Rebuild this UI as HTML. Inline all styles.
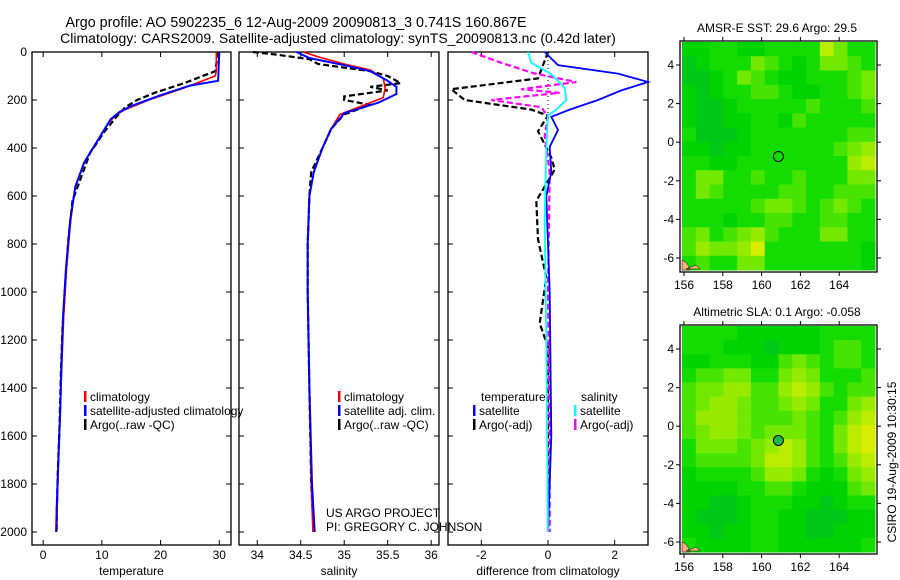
<!DOCTYPE html>
<html><head><meta charset="utf-8"><style>
html,body{margin:0;padding:0;background:#fff;}
svg{display:block;font-family:"Liberation Sans",sans-serif;}
</style></head><body>
<svg id="fig" width="900" height="580" viewBox="0 0 900 580" xmlns="http://www.w3.org/2000/svg">
<text x="296" y="27" font-size="14.3" text-anchor="middle">Argo profile: AO 5902235_6 12-Aug-2009 20090813_3 0.741S 160.867E</text>
<text x="338" y="43" font-size="14" text-anchor="middle">Climatology: CARS2009. Satellite-adjusted climatology: synTS_20090813.nc (0.42d later)</text>
<g id="g1"></g>
<g id="g2"></g>
<g id="g3"></g>
<g id="m1"></g>
<g id="m2"></g>
<text x="777" y="32" font-size="12" text-anchor="middle">AMSR-E SST: 29.6 Argo: 29.5</text>
<text x="777" y="316" font-size="12" text-anchor="middle">Altimetric SLA: 0.1 Argo: -0.058</text>
<text transform="translate(896,462) rotate(-90)" font-size="12" text-anchor="middle">CSIRO 19-Aug-2009 10:30:15</text>
<text x="326" y="517" font-size="12">US ARGO PROJECT</text>
<text x="326" y="531" font-size="12">PI: GREGORY C. JOHNSON</text>
</svg>
<script>
// ---- profile data: [value, depth] ----
const depthTicks = [0,200,400,600,800,1000,1200,1400,1600,1800,2000];
const tempTicks = [0,10,20,30];
const salTicks = [34,34.5,35,35.5,36];
const diffTicks = [-2,0,2];
const tempClim = [[29.5,0],[29.5,80],[29.3,100],[24,150],[18,200],[14,240],[12.5,260],[11,300],[9,380],[7,460],[5.5,560],[4.7,700],[4,900],[3.5,1100],[3.2,1300],[2.9,1500],[2.6,1700],[2.4,1900],[2.3,2000]];
const tempSat = [[30,0],[29.8,120],[25,140],[20,180],[15,225],[13,250],[11.5,280],[11,300],[9,380],[7,460],[5.5,560],[4.6,700],[3.9,900],[3.4,1100],[3.1,1300],[2.9,1500],[2.6,1700],[2.3,1900],[2.2,2000]];
const tempArgo = [[29.8,0],[29.3,80],[24,130],[19,170],[16,200],[14,230],[12.5,270],[10.5,330],[8,420],[6.5,520],[5,620],[4.3,780],[3.8,950],[3.3,1150],[3.0,1350],[2.8,1550],[2.5,1750],[2.35,1900],[2.3,2000]];
const salClim = [[34.53,0],[34.7,20],[35.0,50],[35.3,75],[35.45,110],[35.47,150],[35.45,190],[35.2,225],[34.95,260],[34.85,320],[34.75,400],[34.65,500],[34.6,600],[34.58,800],[34.58,1000],[34.6,1400],[34.62,1800],[34.64,2000]];
const salSat = [[34.45,0],[34.6,25],[35.0,55],[35.3,80],[35.5,120],[35.6,145],[35.6,175],[35.4,210],[35.0,255],[34.85,320],[34.75,400],[34.65,500],[34.6,600],[34.58,800],[34.58,1000],[34.6,1400],[34.63,1800],[34.66,2000]];
const salArgo = [[33.95,0],[34.2,10],[34.6,30],[34.7,50],[35.3,80],[35.5,100],[35.65,130],[35.3,145],[35.5,160],[35.0,185],[35.0,200],[35.3,220],[35.0,260],[34.85,320],[34.75,400],[34.62,500],[34.6,600],[34.58,800],[34.58,1000],[34.6,1400],[34.62,1800],[34.65,2000]];
const dTempSat = [[-0.1,0],[0.3,55],[2.1,90],[3,125],[2.2,160],[1.5,200],[0.65,240],[0.1,270],[0.3,325],[0.05,395],[0.1,500],[-0.05,600],[0.05,1000],[0.1,1600],[0,2000]];
const dSalSat = [[-0.6,0],[-0.5,45],[0.05,88],[0.3,120],[0.5,150],[0.55,200],[0.25,240],[0,265],[-0.05,400],[-0.1,700],[-0.05,1200],[0,2000]];
const dSalArgo = [[-2.3,0],[-1.4,45],[-0.45,88],[0.85,125],[-0.8,155],[0.35,170],[-1.7,200],[-0.2,230],[0,270],[-0.1,350],[0.05,500],[0,1000],[0.05,1600],[0.05,2000]];
const dTempArgo = [[0,0],[-0.3,110],[-2.9,155],[-2.5,200],[-0.5,240],[0,265],[-0.3,330],[0.1,440],[0.2,490],[-0.35,620],[-0.3,780],[-0.05,940],[-0.25,1130],[0,1230],[0,2000]];
// ---- map data (rows north->south, digits 0-9 = colour level) ----
const lonTicks = [156,158,160,162,164];
const latTicks = [4,2,0,-2,-4,-6];
const argoPos = [160.867,-0.741];
const sstGrid = ["22332233337533","12333543235543","11235432233345","21233443223345","21123333343334","21122332433333","31112333333344","22122333333456","33223333333367","35533433433355","35433334433444","33333455434543","33323344334433","45345643335533","46556833333332","34335533333332"];
const slaGrid = ["33332222223333","33322212223443","22333224543443","34455335653334","45566446764344","45665445653356","46665444543467","45665455543578","35554567643578","34444577643467","23333466532356","22223344322245","22112333221233","21112332211122","22122332211222","32222332222223"];

const NS = "http://www.w3.org/2000/svg";
function mk(parent, tag, attrs){const e=document.createElementNS(NS,tag);for(const k in attrs)e.setAttribute(k,attrs[k]);parent.appendChild(e);return e;}
const Y0=52, YPX=0.24;
function yD(d){return Y0+d*YPX;}
const PB=545;

function panel(g, x0, x1, vmin, vmax, ticks, tickFmt, xlabel, showY){
  const sx = v => x0+(v-vmin)/(vmax-vmin)*(x1-x0);
  const box = mk(g,'rect',{x:x0,y:Y0,width:x1-x0,height:PB-Y0,fill:'none',stroke:'#000','stroke-width':1.3});
  
  
  ticks.forEach(t=>{
    const x=sx(t);
    mk(g,'line',{x1:x,x2:x,y1:PB,y2:PB-5,stroke:'#000'});
    mk(g,'line',{x1:x,x2:x,y1:Y0,y2:Y0+5,stroke:'#000'});
    const tx=mk(g,'text',{x:x,y:559,'font-size':12,'text-anchor':'middle'});
    tx.textContent=tickFmt(t);
    
    
  });
  depthTicks.forEach(d=>{
    const y=yD(d);
    mk(g,'line',{x1:x0,x2:x0+5,y1:y,y2:y,stroke:'#000'});
    mk(g,'line',{x1:x1,x2:x1-5,y1:y,y2:y,stroke:'#000'});
    if(showY){const tx=mk(g,'text',{x:27,y:y+4,'font-size':12,'text-anchor':'end'});tx.textContent=d;
      
      }
  });
  const lb=mk(g,'text',{x:(x0+x1)/2,y:575,'font-size':12,'text-anchor':'middle'});
  lb.textContent=xlabel;
  
  
  return sx;
}
function line(g, sx, data, color, dash, w, name){
  const p=mk(g,'polyline',{points:data.map(a=>sx(a[0]).toFixed(1)+','+yD(a[1]).toFixed(1)).join(' '),fill:'none',stroke:color,'stroke-width':w,'stroke-dasharray':dash||'none'});
  
  
}
function legend(g, x, y, color, label, name){
  mk(g,'rect',{x:x,y:y-6,width:2.5,height:11,fill:color});
  const t=mk(g,'text',{x:x+6,y:y+4,'font-size':12});t.textContent=label;
  
  
}
const g1=document.getElementById('g1'),g2=document.getElementById('g2'),g3=document.getElementById('g3');
const s1=panel(g1,32,231,-1.9,32,tempTicks,t=>t,'temperature',true);
line(g1,s1,tempArgo,'#000','6,3',2.2,'argo-temperature-line');
line(g1,s1,tempClim,'#f00','',1.6,'climatology-temperature-line');
line(g1,s1,tempSat,'#00f','',2,'satellite-temperature-line');
legend(g1,84,397,'#f00','climatology','legend-climatology');
legend(g1,84,411,'#00f','satellite-adjusted climatology','legend-satellite');
legend(g1,84,425,'#000','Argo(..raw -QC)','legend-argo');

const s2=panel(g2,239,439,33.79,36.09,salTicks,t=>t,'salinity',false);
line(g2,s2,salArgo,'#000','6,3',2.2,'argo-salinity-line');
line(g2,s2,salClim,'#f00','',1.6,'climatology-salinity-line');
line(g2,s2,salSat,'#00f','',2,'satellite-salinity-line');
legend(g2,338,397,'#f00','climatology','legend-climatology');
legend(g2,338,411,'#00f','satellite adj. clim.','legend-satellite');
legend(g2,338,425,'#000','Argo(..raw -QC)','legend-argo');

const s3=panel(g3,448,648,-3,3,diffTicks,t=>t,'difference from climatology',false);
mk(g3,'line',{x1:s3(0),x2:s3(0),y1:yD(0),y2:yD(300),stroke:'#000','stroke-dasharray':'1,3'});
line(g3,s3,dTempArgo,'#000','6,3',2.2,'argo-temperature-diff-line');
line(g3,s3,dSalArgo,'#f0f','6,3',2.2,'argo-salinity-diff-line');
line(g3,s3,dTempSat,'#00f','',1.8,'satellite-temperature-diff-line');
line(g3,s3,dSalSat,'#0ff','',1.8,'satellite-salinity-diff-line');
{const t=mk(g3,'text',{x:481,y:401,'font-size':12});t.textContent='temperature';


const u=mk(g3,'text',{x:581,y:401,'font-size':12});u.textContent='salinity';

}
legend(g3,473,411,'#00f','satellite','legend-temp-satellite');
legend(g3,473,425,'#000','Argo(-adj)','legend-temp-argo');
legend(g3,574,411,'#0ff','satellite','legend-sal-satellite');
legend(g3,574,425,'#f0f','Argo(-adj)','legend-sal-argo');

// maps
const stops=[[0,185,45],[0,200,25],[0,212,0],[20,220,0],[70,228,0],[115,232,0],[150,235,0],[185,236,0],[215,238,0],[240,240,0]];
function mapPanel(g, top, bot, lat4y, grid, filled){
  const L=680,R=877, lonX=lon=>684+(lon-156)*19.4, latY=lat=>lat4y+(4-lat)*19.3;
  const rows=grid.length, cols=grid[0].length;
  const dx=(875-682)/cols, dy=(bot-2-(top+1))/rows;
  grid.forEach((row,r)=>{for(let c=0;c<cols;c++){const v=+row[c];const col=stops[v];
    const cell=mk(g,'rect',{x:(682+c*dx).toFixed(2),y:(top+1+r*dy).toFixed(2),width:(dx+0.5).toFixed(2),height:(dy+0.5).toFixed(2),fill:`rgb(${col[0]},${col[1]},${col[2]})`});
    
    }});
  mk(g,'path',{d:`M682 ${bot-12} q6 2 8 10 l-8 0 z M686 ${bot-3} l14 0 l-4 -4 z`,fill:'#f4b07a',stroke:'#000','stroke-width':0.5});
  const fr=mk(g,'rect',{x:L,y:top,width:R-L,height:bot-top,fill:'none',stroke:'#000','stroke-width':1.3});
  
  
  lonTicks.forEach(l=>{const x=lonX(l);
    mk(g,'line',{x1:x,x2:x,y1:top,y2:top-4,stroke:'#000'});
    mk(g,'line',{x1:x,x2:x,y1:bot,y2:bot+4,stroke:'#000'});
    const t=mk(g,'text',{x:x,y:bot+17,'font-size':12,'text-anchor':'middle'});t.textContent=l;
    
    });
  latTicks.forEach(l=>{const y=latY(l);
    mk(g,'line',{x1:L,x2:L-4,y1:y,y2:y,stroke:'#000'});
    mk(g,'line',{x1:R,x2:R+4,y1:y,y2:y,stroke:'#000'});
    const t=mk(g,'text',{x:L-6,y:y+4,'font-size':12,'text-anchor':'end'});t.textContent=l;
    
    });
  const c=mk(g,'circle',{cx:lonX(argoPos[0]),cy:latY(argoPos[1]),r:5,fill:filled?'#1cb84a':'none',stroke:'#000','stroke-width':1});
  
  
}
mapPanel(document.getElementById('m1'),41,272,65,sstGrid,false);
mapPanel(document.getElementById('m2'),325,554,349,slaGrid,true);
</script>
</body></html>
